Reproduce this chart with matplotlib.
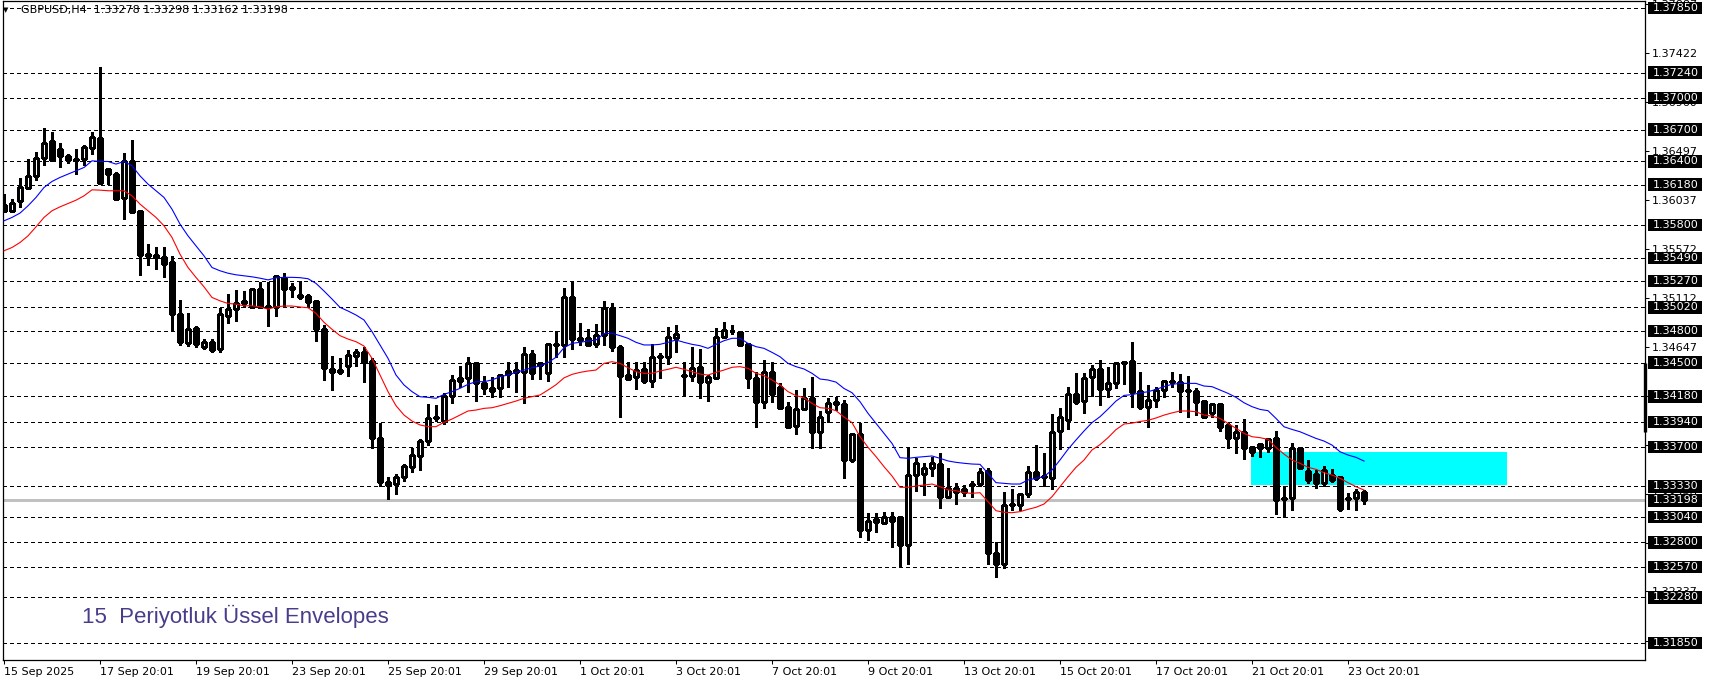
import matplotlib
matplotlib.use("Agg")
import matplotlib.pyplot as plt
import matplotlib.transforms as mtransforms
from matplotlib.patches import Rectangle
import numpy as np

# ---------------- data (GBPUSD H4) ----------------
opens = [
    1.35987, 1.35934, 1.36022, 1.36145, 1.36264, 1.36428, 1.36589, 1.36513, 1.36447, 1.36425,
    1.36422, 1.36523, 1.36617, 1.36327, 1.36286, 1.36050, 1.36400, 1.35930, 1.35524, 1.35514,
    1.35499, 1.35450, 1.34959, 1.34685, 1.34826, 1.34647, 1.34694, 1.34628, 1.34942, 1.35003,
    1.35081, 1.35028, 1.35192, 1.35037, 1.35028, 1.35302, 1.35192, 1.35138, 1.35129, 1.35081,
    1.34814, 1.34439, 1.34429, 1.34470, 1.34565, 1.34596, 1.34514, 1.33790, 1.33370, 1.33350,
    1.33420, 1.33516, 1.33620, 1.33761, 1.33972, 1.33950, 1.34187, 1.34328, 1.34351, 1.34492,
    1.34303, 1.34234, 1.34256, 1.34388, 1.34429, 1.34414, 1.34580, 1.34492, 1.34398, 1.34666,
    1.34666, 1.35116, 1.34732, 1.34729, 1.34672, 1.34757, 1.35012, 1.34643, 1.34382, 1.34360,
    1.34436, 1.34328, 1.34565, 1.34555, 1.34729, 1.34379, 1.34376, 1.34455, 1.34319, 1.34357,
    1.34738, 1.34801, 1.34788, 1.34675, 1.34351, 1.34124, 1.34407, 1.34272, 1.34083, 1.33900,
    1.34061, 1.34162, 1.33840, 1.34029, 1.34127, 1.34105, 1.33579, 1.33822, 1.32918, 1.32996,
    1.32988, 1.33036, 1.33037, 1.32780, 1.33437, 1.33443, 1.33500, 1.33538, 1.33226, 1.33311,
    1.33280, 1.33352, 1.33349, 1.33475, 1.32700, 1.32600, 1.33150, 1.33154, 1.33255, 1.33469,
    1.33422, 1.33412, 1.33853, 1.33957, 1.34200, 1.34136, 1.34360, 1.34436, 1.34247, 1.34303,
    1.34492, 1.34514, 1.34231, 1.34082, 1.34145, 1.34240, 1.34322, 1.34312, 1.34237, 1.34231,
    1.34136, 1.34026, 1.34105, 1.33909, 1.33783, 1.33840, 1.33698, 1.33730, 1.33695, 1.33783,
    1.33210, 1.33217, 1.33689, 1.33475, 1.33444, 1.33365, 1.33437, 1.33422, 1.33220, 1.33217,
    1.33278,
]
highs = [
    1.36097, 1.36044, 1.36242, 1.36419, 1.36485, 1.36715, 1.36677, 1.36579, 1.36475, 1.36513,
    1.36557, 1.36683, 1.37290, 1.36334, 1.36296, 1.36479, 1.36601, 1.35937, 1.35619, 1.35593,
    1.35593, 1.35505, 1.35091, 1.34968, 1.34845, 1.34722, 1.34722, 1.35015, 1.35148, 1.35183,
    1.35173, 1.35201, 1.35258, 1.35264, 1.35327, 1.35343, 1.35255, 1.35274, 1.35144, 1.35088,
    1.34855, 1.34562, 1.34540, 1.34618, 1.34628, 1.34643, 1.34540, 1.33925, 1.33420, 1.33450,
    1.33537, 1.33689, 1.33777, 1.34105, 1.34099, 1.34209, 1.34382, 1.34467, 1.34549, 1.34502,
    1.34373, 1.34360, 1.34388, 1.34508, 1.34502, 1.34650, 1.34618, 1.34508, 1.34681, 1.34798,
    1.35201, 1.35258, 1.34870, 1.34814, 1.34861, 1.35081, 1.35059, 1.34666, 1.34502, 1.34502,
    1.34502, 1.34672, 1.34587, 1.34839, 1.34855, 1.34502, 1.34650, 1.34628, 1.34382, 1.34823,
    1.34883, 1.34855, 1.34795, 1.34681, 1.34414, 1.34521, 1.34502, 1.34303, 1.34124, 1.34240,
    1.34256, 1.34366, 1.34045, 1.34162, 1.34171, 1.34146, 1.33837, 1.33932, 1.33081, 1.33075,
    1.33086, 1.33092, 1.33050, 1.33689, 1.33595, 1.33554, 1.33610, 1.33642, 1.33507, 1.33365,
    1.33343, 1.33380, 1.33500, 1.33500, 1.32800, 1.33274, 1.33302, 1.33270, 1.33522, 1.33718,
    1.33642, 1.34011, 1.34074, 1.34266, 1.34398, 1.34398, 1.34474, 1.34524, 1.34461, 1.34508,
    1.34517, 1.34697, 1.34410, 1.34287, 1.34271, 1.34335, 1.34413, 1.34391, 1.34372, 1.34256,
    1.34145, 1.34114, 1.34114, 1.33925, 1.33909, 1.33966, 1.33705, 1.33736, 1.33783, 1.33853,
    1.33330, 1.33739, 1.33705, 1.33579, 1.33485, 1.33522, 1.33491, 1.33428, 1.33265, 1.33302,
    1.33298,
]
lows = [
    1.35927, 1.35927, 1.35971, 1.36138, 1.36227, 1.36368, 1.36406, 1.36349, 1.36381, 1.36286,
    1.36368, 1.36475, 1.36192, 1.36186, 1.36037, 1.35852, 1.35918, 1.35329, 1.35423, 1.35382,
    1.35304, 1.34806, 1.34666, 1.34656, 1.34647, 1.34628, 1.34600, 1.34600, 1.34876, 1.34895,
    1.35022, 1.35022, 1.35022, 1.34848, 1.34942, 1.35037, 1.35116, 1.35097, 1.35028, 1.34703,
    1.34335, 1.34240, 1.34388, 1.34376, 1.34470, 1.34319, 1.33689, 1.33330, 1.33210, 1.33260,
    1.33380, 1.33469, 1.33484, 1.33720, 1.33950, 1.33919, 1.34121, 1.34272, 1.34225, 1.34140,
    1.34202, 1.34171, 1.34177, 1.34272, 1.34225, 1.34114, 1.34344, 1.34344, 1.34328, 1.34549,
    1.34555, 1.34628, 1.34666, 1.34659, 1.34650, 1.34666, 1.34609, 1.33988, 1.34335, 1.34247,
    1.34310, 1.34265, 1.34351, 1.34483, 1.34602, 1.34193, 1.34328, 1.34162, 1.34140, 1.34351,
    1.34729, 1.34769, 1.34659, 1.34256, 1.33894, 1.34073, 1.34130, 1.34067, 1.33884, 1.33821,
    1.34051, 1.33695, 1.33695, 1.33935, 1.34051, 1.33406, 1.33563, 1.32850, 1.32820, 1.32902,
    1.32974, 1.32760, 1.32577, 1.32600, 1.33289, 1.33248, 1.33428, 1.33122, 1.33217, 1.33163,
    1.33239, 1.33232, 1.33333, 1.32600, 1.32470, 1.32560, 1.33107, 1.33107, 1.33232, 1.33390,
    1.33336, 1.33302, 1.33680, 1.33869, 1.34105, 1.34020, 1.34184, 1.34096, 1.34171, 1.34256,
    1.34297, 1.34082, 1.34057, 1.33887, 1.34082, 1.34171, 1.34265, 1.34035, 1.33982, 1.34004,
    1.33982, 1.33982, 1.33856, 1.33689, 1.33642, 1.33585, 1.33616, 1.33610, 1.33657, 1.33070,
    1.33040, 1.33107, 1.33500, 1.33365, 1.33311, 1.33333, 1.33374, 1.33100, 1.33120, 1.33110,
    1.33162,
]
closes = [
    1.35934, 1.36012, 1.36154, 1.36258, 1.36428, 1.36579, 1.36412, 1.36447, 1.36415, 1.36412,
    1.36532, 1.36627, 1.36198, 1.36286, 1.36044, 1.36400, 1.35924, 1.35518, 1.35508, 1.35493,
    1.35429, 1.34963, 1.34694, 1.34817, 1.34675, 1.34694, 1.34618, 1.34959, 1.35006, 1.35065,
    1.35060, 1.35192, 1.35022, 1.35028, 1.35318, 1.35192, 1.35214, 1.35122, 1.35075, 1.34814,
    1.34445, 1.34414, 1.34414, 1.34571, 1.34596, 1.34508, 1.33784, 1.33370, 1.33340, 1.33420,
    1.33522, 1.33626, 1.33758, 1.33972, 1.33988, 1.34187, 1.34332, 1.34351, 1.34492, 1.34310,
    1.34262, 1.34256, 1.34382, 1.34420, 1.34414, 1.34577, 1.34398, 1.34477, 1.34675, 1.34672,
    1.35116, 1.34719, 1.34716, 1.34666, 1.34757, 1.35012, 1.34650, 1.34376, 1.34341, 1.34432,
    1.34328, 1.34549, 1.34555, 1.34738, 1.34766, 1.34373, 1.34451, 1.34319, 1.34360, 1.34738,
    1.34804, 1.34795, 1.34666, 1.34357, 1.34124, 1.34407, 1.34199, 1.34073, 1.33894, 1.34061,
    1.34162, 1.33840, 1.33988, 1.34114, 1.34105, 1.33579, 1.33822, 1.32918, 1.33003, 1.33021,
    1.33036, 1.32998, 1.32780, 1.33437, 1.33547, 1.33500, 1.33547, 1.33232, 1.33311, 1.33280,
    1.33302, 1.33346, 1.33469, 1.32700, 1.32600, 1.33154, 1.33160, 1.33255, 1.33469, 1.33406,
    1.33431, 1.33847, 1.33982, 1.34200, 1.34130, 1.34357, 1.34436, 1.34247, 1.34303, 1.34492,
    1.34508, 1.34224, 1.34082, 1.34145, 1.34240, 1.34325, 1.34316, 1.34234, 1.34231, 1.34130,
    1.33988, 1.34105, 1.33893, 1.33783, 1.33840, 1.33695, 1.33657, 1.33689, 1.33777, 1.33200,
    1.33220, 1.33689, 1.33507, 1.33390, 1.33365, 1.33485, 1.33390, 1.33116, 1.33215, 1.33274,
    1.33198,
]
upper_env = [
    1.35839, 1.35871, 1.35912, 1.35981, 1.36060, 1.36154, 1.36211, 1.36249, 1.36280, 1.36312,
    1.36343, 1.36406, 1.36400, 1.36400, 1.36375, 1.36400, 1.36359, 1.36264, 1.36186, 1.36123,
    1.36060, 1.35949, 1.35808, 1.35697, 1.35603, 1.35508, 1.35398, 1.35367, 1.35344, 1.35329,
    1.35319, 1.35310, 1.35297, 1.35281, 1.35300, 1.35305, 1.35305, 1.35302, 1.35292, 1.35248,
    1.35176, 1.35100, 1.35021, 1.34987, 1.34949, 1.34902, 1.34792, 1.34666, 1.34540, 1.34382,
    1.34288, 1.34225, 1.34177, 1.34171, 1.34162, 1.34199, 1.34225, 1.34256, 1.34294, 1.34319,
    1.34319, 1.34335, 1.34366, 1.34382, 1.34407, 1.34429, 1.34451, 1.34467, 1.34499, 1.34550,
    1.34640, 1.34681, 1.34691, 1.34703, 1.34713, 1.34773, 1.34776, 1.34754, 1.34729, 1.34691,
    1.34666, 1.34666, 1.34672, 1.34691, 1.34713, 1.34691, 1.34672, 1.34659, 1.34634, 1.34672,
    1.34706, 1.34729, 1.34729, 1.34681, 1.34650, 1.34634, 1.34596, 1.34555, 1.34492, 1.34461,
    1.34439, 1.34398, 1.34344, 1.34335, 1.34315, 1.34255, 1.34215, 1.34130, 1.34020, 1.33925,
    1.33831, 1.33736, 1.33601, 1.33595, 1.33604, 1.33610, 1.33617, 1.33595, 1.33570, 1.33557,
    1.33548, 1.33541, 1.33538, 1.33453, 1.33365, 1.33358, 1.33352, 1.33352, 1.33390, 1.33406,
    1.33422, 1.33484, 1.33579, 1.33680, 1.33768, 1.33853, 1.33932, 1.33988, 1.34060, 1.34136,
    1.34189, 1.34197, 1.34213, 1.34224, 1.34246, 1.34273, 1.34294, 1.34303, 1.34303, 1.34303,
    1.34278, 1.34272, 1.34240, 1.34209, 1.34171, 1.34120, 1.34083, 1.34057, 1.34045, 1.33972,
    1.33893, 1.33868, 1.33846, 1.33815, 1.33783, 1.33758, 1.33720, 1.33657, 1.33626, 1.33604,
    1.33569,
]
lower_env = [
    1.35556, 1.35587, 1.35634, 1.35697, 1.35782, 1.35871, 1.35934, 1.35971, 1.36003, 1.36034,
    1.36075, 1.36132, 1.36129, 1.36123, 1.36123, 1.36123, 1.36075, 1.35997, 1.35934, 1.35871,
    1.35792, 1.35682, 1.35524, 1.35398, 1.35304, 1.35215, 1.35115, 1.35083, 1.35058, 1.35052,
    1.35036, 1.35036, 1.35026, 1.35004, 1.35026, 1.35034, 1.35034, 1.35025, 1.35018, 1.34965,
    1.34880, 1.34814, 1.34754, 1.34722, 1.34697, 1.34656, 1.34540, 1.34382, 1.34225, 1.34092,
    1.34004, 1.33947, 1.33910, 1.33894, 1.33894, 1.33935, 1.33966, 1.34004, 1.34042, 1.34051,
    1.34067, 1.34073, 1.34092, 1.34114, 1.34136, 1.34162, 1.34177, 1.34193, 1.34240, 1.34290,
    1.34355, 1.34388, 1.34407, 1.34420, 1.34429, 1.34492, 1.34508, 1.34492, 1.34451, 1.34414,
    1.34398, 1.34398, 1.34420, 1.34436, 1.34455, 1.34436, 1.34414, 1.34391, 1.34382, 1.34407,
    1.34429, 1.34455, 1.34461, 1.34445, 1.34398, 1.34376, 1.34335, 1.34288, 1.34225, 1.34187,
    1.34168, 1.34114, 1.34073, 1.34067, 1.34045, 1.33985, 1.33932, 1.33800, 1.33699, 1.33611,
    1.33516, 1.33428, 1.33321, 1.33321, 1.33333, 1.33343, 1.33352, 1.33327, 1.33296, 1.33289,
    1.33270, 1.33264, 1.33270, 1.33185, 1.33100, 1.33085, 1.33081, 1.33091, 1.33113, 1.33132,
    1.33163, 1.33232, 1.33327, 1.33421, 1.33510, 1.33579, 1.33674, 1.33724, 1.33790, 1.33866,
    1.33919, 1.33927, 1.33943, 1.33954, 1.33976, 1.34003, 1.34024, 1.34042, 1.34042, 1.34035,
    1.34004, 1.33994, 1.33972, 1.33925, 1.33878, 1.33831, 1.33799, 1.33790, 1.33774, 1.33698,
    1.33635, 1.33579, 1.33548, 1.33510, 1.33491, 1.33459, 1.33437, 1.33406, 1.33365, 1.33327,
    1.33295,
]

level_lines = [1.37850, 1.37240, 1.37000, 1.36700, 1.36400, 1.36180, 1.35800, 1.35490,
               1.35270, 1.35020, 1.34800, 1.34500, 1.34180, 1.33940, 1.33700, 1.33330,
               1.33040, 1.32800, 1.32570, 1.32280, 1.31850]
axis_ticks = [1.37887, 1.37422, 1.36960, 1.36497, 1.36037, 1.35572, 1.35112, 1.34647,
              1.34185, 1.33722, 1.33260, 1.32797, 1.32337, 1.31872]
current_price = 1.33198
zone_top = 1.33655
zone_bottom = 1.33343
zone_first_bar = 155.9
zone_last_bar = 187.9
x_tick_bars = [0, 12, 24, 36, 48, 60, 72, 84, 96, 108, 120, 132, 144, 156, 168]
x_tick_labels = ["15 Sep 2025", "17 Sep 20:01", "19 Sep 20:01", "23 Sep 20:01",
                 "25 Sep 20:01", "29 Sep 20:01", "1 Oct 20:01", "3 Oct 20:01",
                 "7 Oct 20:01", "9 Oct 20:01", "13 Oct 20:01", "15 Oct 20:01",
                 "17 Oct 20:01", "21 Oct 20:01", "23 Oct 20:01"]
title_text = "GBPUSD,H4  1.33278 1.33298 1.33162 1.33198"
indicator_text = "15  Periyotluk Üssel Envelopes"

# ---------------- figure ----------------
plt.rcParams["font.family"] = ["DejaVu Sans"]
W, H = 1709, 684
fig = plt.figure(figsize=(W / 100, H / 100), dpi=100)
fig.patch.set_facecolor("white")
ax_l, ax_r, ax_t, ax_b = 3, 1645, 1, 660
ax = fig.add_axes([ax_l / W, (H - ax_b) / H, (ax_r - ax_l) / W, (ax_b - ax_t) / H])
ax.set_facecolor("white")

px_per_price = 10583.0
ax.set_xlim((ax_l - 4) / 8.0, (ax_r - 4) / 8.0)
ax.set_ylim(1.37850 - (ax_b - 8) / px_per_price, 1.37850 + (8 - ax_t) / px_per_price)

o = np.array(opens); h = np.array(highs); lo = np.array(lows); c = np.array(closes)
x = np.arange(len(o))

# zone
ax.add_patch(Rectangle((zone_first_bar, zone_bottom), zone_last_bar - zone_first_bar,
                       zone_top - zone_bottom, facecolor="#00FFFF", edgecolor="none", zorder=1))

# level lines
for lv in level_lines:
    ax.axhline(lv, color="black", lw=0.75, linestyle=(0, (3.8, 2.9)), zorder=0.8,
               antialiased=False)
ax.axhline(current_price, color="#C0C0C0", lw=0.75, zorder=0.9, antialiased=False)

# candles
ax.vlines(x, lo, h, color="black", lw=0.75, zorder=3, antialiased=False)
bull = c >= o
bot = np.minimum(o, c)
hgt = np.abs(c - o)
ax.bar(x[bull], hgt[bull], bottom=bot[bull], width=0.5, facecolor="white",
       edgecolor="black", linewidth=0.75, zorder=4, antialiased=False)
ax.bar(x[~bull], hgt[~bull], bottom=bot[~bull], width=0.5, facecolor="black",
       edgecolor="black", linewidth=0.75, zorder=4, antialiased=False)

# envelopes
ax.plot(x, upper_env, color="#0000FF", lw=0.8, zorder=5)
ax.plot(x, lower_env, color="#FF0000", lw=0.8, zorder=5)

# spines
for s in ax.spines.values():
    s.set_color("black")
    s.set_linewidth(0.9)

# y axis on right
ax.yaxis.tick_right()
ax.set_yticks(axis_ticks)
ax.set_yticklabels([f"{v:.5f}" for v in axis_ticks])
ax.tick_params(axis="y", direction="out", length=3, width=0.75, pad=2, labelsize=8,
               colors="black")

# x axis
ax.set_xticks(x_tick_bars)
ax.set_xticklabels(x_tick_labels, ha="left")
ax.tick_params(axis="x", direction="out", length=3, width=0.75, pad=2, labelsize=8,
               colors="black")

blend = mtransforms.blended_transform_factory(ax.transAxes, ax.transData)
span = ax_r - ax_l
box_x0 = (1647.7 - ax_l) / span
box_w = 54.5 / span
box_h = 12.5 / px_per_price
for lv in level_lines + [current_price]:
    ax.add_patch(Rectangle((box_x0, lv - box_h / 2), box_w, box_h, transform=blend,
                           facecolor="black", edgecolor="none", clip_on=False, zorder=10))
    ax.text((1652.5 - ax_l) / span, lv, f"{lv:.5f}", transform=blend, ha="left",
            va="center", color="white", fontsize=8, clip_on=False, zorder=11)

# thick marker on right edge
ax.plot([1.0, 1.0], [1.34500, 1.33844], transform=blend, color="black", lw=2.4,
        solid_capstyle="butt", clip_on=False, zorder=9)

# title
ax.text((6 - ax_l) / span, (ax_b - 10) / (ax_b - ax_t), "\u25BC", transform=ax.transAxes,
        ha="center", va="center", fontsize=5, color="black")
ax.text((21 - ax_l) / span, (ax_b - 10) / (ax_b - ax_t), title_text, transform=ax.transAxes,
        ha="left", va="center", fontsize=8, color="black")

# indicator label
ax.text((82 - ax_l) / span, (ax_b - 616) / (ax_b - ax_t), indicator_text,
        transform=ax.transAxes, ha="left", va="center", fontsize=16,
        family=["Liberation Sans", "DejaVu Sans"], color="#483D8B")

fig.savefig("out.png", dpi=100, facecolor="white")
